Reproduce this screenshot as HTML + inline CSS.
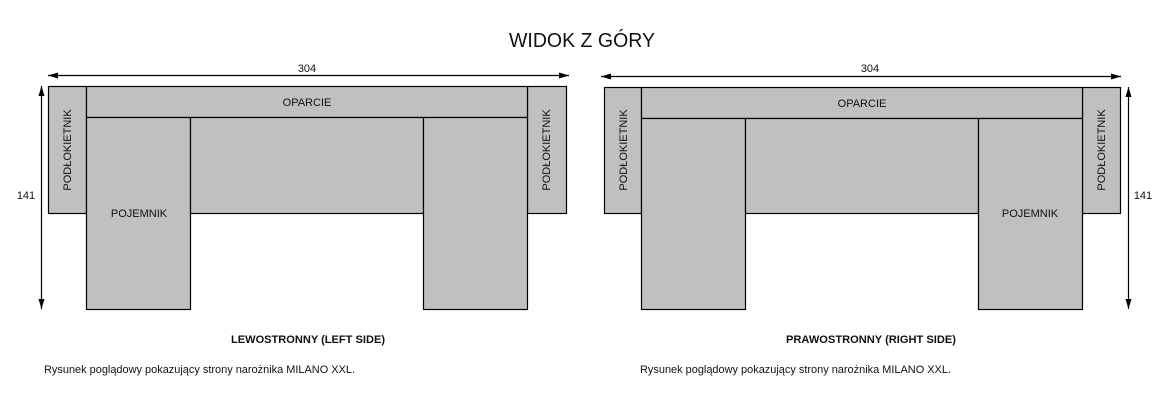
<!DOCTYPE html>
<html><head><meta charset="utf-8"><style>html,body{margin:0;padding:0;background:#fff;}svg{display:block}</style></head>
<body>
<svg width="1174" height="406" xmlns="http://www.w3.org/2000/svg" font-family="Liberation Sans, Arial, sans-serif" fill="#111">
<defs>
<marker id="a" viewBox="0 0 10 6" refX="10" refY="3" markerWidth="10" markerHeight="6" orient="auto-start-reverse" markerUnits="userSpaceOnUse"><path d="M0,0 L10,3 L0,6z" fill="#000"/></marker>
</defs>
<text x="582" y="47" font-size="20" text-anchor="middle" textLength="146" lengthAdjust="spacingAndGlyphs">WIDOK Z GÓRY</text>
<g stroke="#000" stroke-width="1.2" fill="#c1bfc0">
<!-- left -->
<rect x="48.5" y="86.5" width="38" height="127"/>
<rect x="527.5" y="86.5" width="39" height="127"/>
<rect x="86.5" y="86.5" width="441" height="31"/>
<rect x="86.5" y="117.5" width="104" height="192"/>
<rect x="190.5" y="117.5" width="233" height="96"/>
<rect x="423.5" y="117.5" width="104" height="192"/>
<!-- right -->
<rect x="604.5" y="87.5" width="37" height="126"/>
<rect x="1082.5" y="87.5" width="38" height="126"/>
<rect x="641.5" y="87.5" width="441" height="31"/>
<rect x="641.5" y="118.5" width="104" height="191"/>
<rect x="745.5" y="118.5" width="233" height="95"/>
<rect x="978.5" y="118.5" width="104" height="191"/>
</g>
<g stroke="#000" stroke-width="1.2" fill="none">
<line x1="48" y1="75.5" x2="569" y2="75.5" marker-start="url(#a)" marker-end="url(#a)"/>
<line x1="41.5" y1="86" x2="41.5" y2="309" marker-start="url(#a)" marker-end="url(#a)"/>
<line x1="601" y1="76.5" x2="1121" y2="76.5" marker-start="url(#a)" marker-end="url(#a)"/>
<line x1="1128.5" y1="87" x2="1128.5" y2="309" marker-start="url(#a)" marker-end="url(#a)"/>
</g>
<g font-size="11" text-anchor="middle">
<text x="307" y="72">304</text>
<text x="870" y="72">304</text>
<text x="26" y="199">141</text>
<text x="1143" y="199">141</text>
<text x="307" y="106">OPARCIE</text>
<text x="862" y="107">OPARCIE</text>
<text x="139" y="217">POJEMNIK</text>
<text x="1030" y="217">POJEMNIK</text>
<text transform="translate(71,150) rotate(-90)">PODŁOKIETNIK</text>
<text transform="translate(550,150) rotate(-90)">PODŁOKIETNIK</text>
<text transform="translate(627,150) rotate(-90)">PODŁOKIETNIK</text>
<text transform="translate(1105,150) rotate(-90)">PODŁOKIETNIK</text>
<text x="308" y="343" font-weight="bold" textLength="154" lengthAdjust="spacingAndGlyphs">LEWOSTRONNY (LEFT SIDE)</text>
<text x="871" y="343" font-weight="bold" textLength="170" lengthAdjust="spacingAndGlyphs">PRAWOSTRONNY (RIGHT SIDE)</text>
</g>
<g font-size="11">
<text x="44" y="373" textLength="311" lengthAdjust="spacingAndGlyphs">Rysunek poglądowy pokazujący strony narożnika MILANO XXL.</text>
<text x="640" y="373" textLength="311" lengthAdjust="spacingAndGlyphs">Rysunek poglądowy pokazujący strony narożnika MILANO XXL.</text>
</g>
</svg>
</body></html>
